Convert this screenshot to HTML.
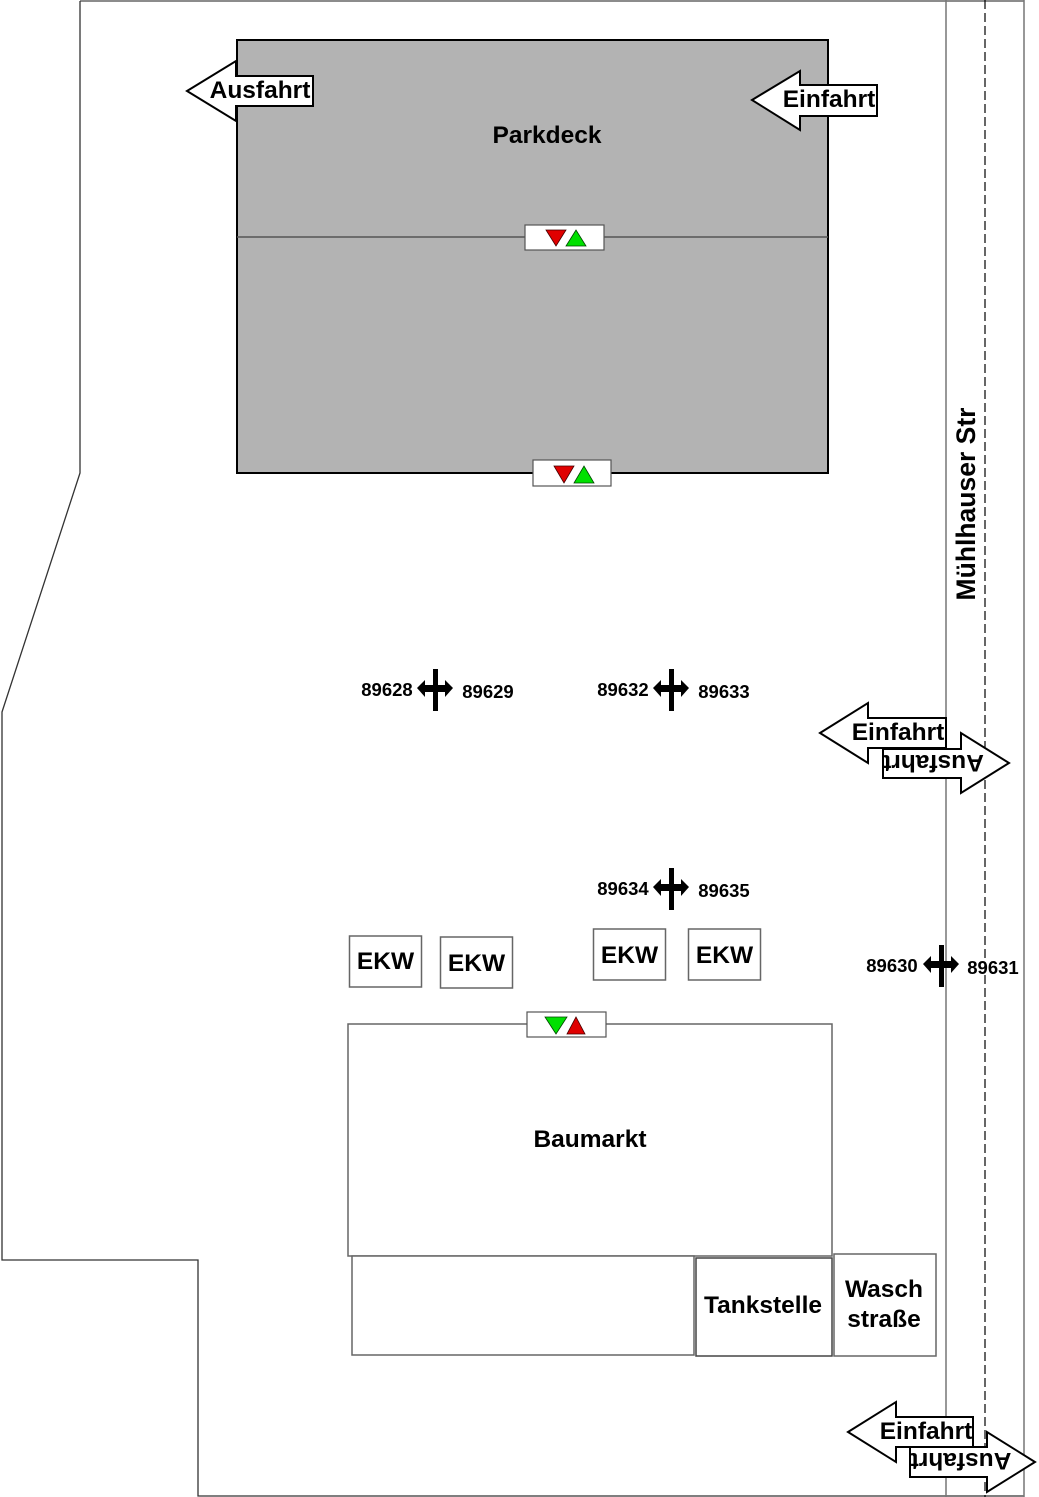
<!DOCTYPE html>
<html><head><meta charset="utf-8"><style>
html,body{margin:0;padding:0;background:#fff;}
svg{display:block;}
text{font-family:"Liberation Sans",Arial,sans-serif;font-weight:bold;fill:#000;}
</style></head><body>
<svg width="1039" height="1497" viewBox="0 0 1039 1497" xmlns="http://www.w3.org/2000/svg">
<!-- site outline -->
<polyline points="80,1 1024,1" fill="none" stroke="#666" stroke-width="1.5"/>
<polyline points="80,1 80,473 2,712 2,1260 198,1260 198,1496 1024,1496" fill="none" stroke="#333" stroke-width="1.3"/>
<!-- road -->
<line x1="946" y1="0" x2="946" y2="1497" stroke="#777" stroke-width="1.5"/>
<line x1="1024" y1="0" x2="1024" y2="1497" stroke="#777" stroke-width="1.5"/>
<line x1="985" y1="0" x2="985" y2="1497" stroke="#000" stroke-width="1.2" stroke-dasharray="9 4"/>
<text transform="translate(975,504) rotate(-90)" text-anchor="middle" font-size="26.5">Mühlhauser Str</text>

<!-- Parkdeck -->
<rect x="237" y="40" width="591" height="433" fill="#b3b3b3" stroke="#000" stroke-width="2"/>
<line x1="237" y1="237" x2="828" y2="237" stroke="#555" stroke-width="1.5"/>
<text x="547" y="143" text-anchor="middle" font-size="24.5">Parkdeck</text>
<rect x="525" y="225" width="79" height="25" fill="#fff" stroke="#555" stroke-width="1.2"/>
<polygon points="546,230 566,230 556,246" fill="#e00000" stroke="#400" stroke-width="0.8"/>
<polygon points="566,246 586,246 576,230" fill="#00e000" stroke="#040" stroke-width="0.8"/>
<rect x="533" y="460" width="78" height="26" fill="#fff" stroke="#555" stroke-width="1.2"/>
<polygon points="554,466 574,466 564,483" fill="#e00000" stroke="#400" stroke-width="0.8"/>
<polygon points="574,483 594,483 584,466" fill="#00e000" stroke="#040" stroke-width="0.8"/>

<!-- Top arrows -->
<polygon points="187,91 236,61 236,76 313,76 313,106 236,106 236,121" fill="#fff" stroke="#000" stroke-width="2"/>
<text x="260" y="98" text-anchor="middle" font-size="24.5">Ausfahrt</text>
<polygon points="752,100 800,71 800,85 877,85 877,116 800,116 800,130" fill="#fff" stroke="#000" stroke-width="2"/>
<text x="829" y="107" text-anchor="middle" font-size="24.5">Einfahrt</text>

<!-- Mid right arrows -->
<polygon points="883,749 961,749 961,733 1009,763 961,793 961,778 883,778" fill="#fff" stroke="#000" stroke-width="2"/>
<text transform="rotate(180 933.5 763.5)" x="933.5" y="772" text-anchor="middle" font-size="24.5">Ausfahrt</text>
<polygon points="820,733 868,703 868,718 946,718 946,748 868,748 868,763" fill="#fff" stroke="#000" stroke-width="2"/>
<text x="898" y="740" text-anchor="middle" font-size="24.5">Einfahrt</text>

<!-- Bottom right arrows -->
<polygon points="910,1447 987,1447 987,1432 1035,1462 987,1492 987,1477 910,1477" fill="#fff" stroke="#000" stroke-width="2"/>
<text transform="rotate(180 961 1461.5)" x="961" y="1470" text-anchor="middle" font-size="24.5">Ausfahrt</text>
<polygon points="848,1432 896,1402 896,1417 973,1417 973,1447 896,1447 896,1462" fill="#fff" stroke="#000" stroke-width="2"/>
<text x="926" y="1439" text-anchor="middle" font-size="24.5">Einfahrt</text>

<!-- sensors -->
<g>
<polygon points="417,688 425,680 425,685 445,685 445,680 453,688 445,697 445,692 425,692 425,697" fill="#000"/>
<rect x="433" y="669" width="5" height="42" fill="#000"/>
</g>
<text x="387" y="696" text-anchor="middle" font-size="18.5">89628</text>
<text x="488" y="698" text-anchor="middle" font-size="18.5">89629</text>

<g transform="translate(236,0)">
<polygon points="417,688 425,680 425,685 445,685 445,680 453,688 445,697 445,692 425,692 425,697" fill="#000"/>
<rect x="433" y="669" width="5" height="42" fill="#000"/>
</g>
<text x="623" y="696" text-anchor="middle" font-size="18.5">89632</text>
<text x="724" y="698" text-anchor="middle" font-size="18.5">89633</text>

<g transform="translate(236,199)">
<polygon points="417,688 425,680 425,685 445,685 445,680 453,688 445,697 445,692 425,692 425,697" fill="#000"/>
<rect x="433" y="669" width="5" height="42" fill="#000"/>
</g>
<text x="623" y="895" text-anchor="middle" font-size="18.5">89634</text>
<text x="724" y="897" text-anchor="middle" font-size="18.5">89635</text>

<g transform="translate(506,276)">
<polygon points="417,688 425,680 425,685 445,685 445,680 453,688 445,697 445,692 425,692 425,697" fill="#000"/>
<rect x="433" y="669" width="5" height="42" fill="#000"/>
</g>
<text x="892" y="972" text-anchor="middle" font-size="18.5">89630</text>
<text x="993" y="974" text-anchor="middle" font-size="18.5">89631</text>

<!-- EKW -->
<rect x="349.5" y="936" width="72" height="51" fill="#fff" stroke="#666" stroke-width="1.5"/>
<text x="385.5" y="969" text-anchor="middle" font-size="24.5">EKW</text>
<rect x="440.5" y="937" width="72" height="51" fill="#fff" stroke="#666" stroke-width="1.5"/>
<text x="476.5" y="971" text-anchor="middle" font-size="24.5">EKW</text>
<rect x="593.5" y="929" width="72" height="51" fill="#fff" stroke="#666" stroke-width="1.5"/>
<text x="629.5" y="963" text-anchor="middle" font-size="24.5">EKW</text>
<rect x="688.5" y="929" width="72" height="51" fill="#fff" stroke="#666" stroke-width="1.5"/>
<text x="724.5" y="963" text-anchor="middle" font-size="24.5">EKW</text>

<!-- Baumarkt -->
<rect x="348" y="1024" width="484" height="232" fill="#fff" stroke="#666" stroke-width="1.5"/>
<text x="590" y="1147" text-anchor="middle" font-size="24.5">Baumarkt</text>
<rect x="527" y="1012" width="79" height="25" fill="#fff" stroke="#555" stroke-width="1.2"/>
<polygon points="545,1017 567,1017 556,1034" fill="#00e000" stroke="#040" stroke-width="0.8"/>
<polygon points="567,1034 585,1034 576,1017" fill="#e00000" stroke="#400" stroke-width="0.8"/>

<rect x="352" y="1256" width="342" height="99" fill="#fff" stroke="#666" stroke-width="1.5"/>
<rect x="696" y="1258" width="136" height="98" fill="#fff" stroke="#444" stroke-width="1.5"/>
<text x="763" y="1313" text-anchor="middle" font-size="24.5">Tankstelle</text>
<rect x="834" y="1254" width="102" height="102" fill="#fff" stroke="#666" stroke-width="1.5"/>
<text x="884" y="1297" text-anchor="middle" font-size="24.5">Wasch</text>
<text x="884" y="1327" text-anchor="middle" font-size="24.5">straße</text>
</svg>
</body></html>
